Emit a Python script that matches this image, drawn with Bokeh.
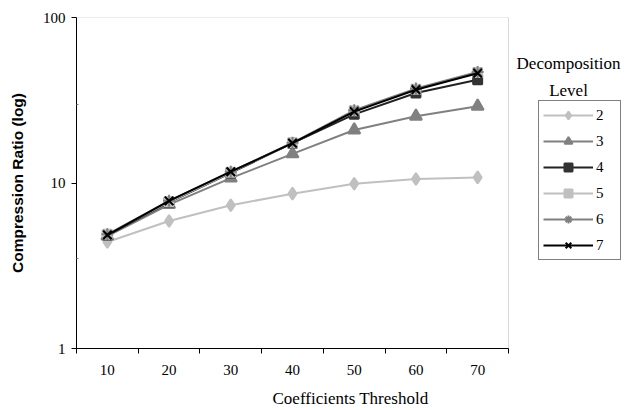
from bokeh.plotting import figure
from bokeh.models import (Range1d, FixedTicker, Legend, LegendItem, Label,
                          PrintfTickFormatter, BoxAnnotation)
from bokeh.embed import file_html
from bokeh.resources import INLINE

thresholds = [10, 20, 30, 40, 50, 60, 70]
levels = ["2", "3", "4", "5", "6", "7"]
ratio_2 = [4.40, 5.89, 7.34, 8.62, 9.90, 10.57, 10.81]
ratio_3 = [4.78, 7.41, 10.7, 15.0, 20.9, 25.3, 29.1]
ratio_4 = [4.85, 7.65, 11.5, 17.4, 26.0, 35.0, 42.0]
ratio_5 = [4.90, 7.70, 11.6, 17.5, 27.3, 36.9, 46.5]
ratio_6 = [4.90, 7.80, 11.7, 17.5, 27.5, 37.2, 46.8]
ratio_7 = [4.85, 7.80, 11.7, 17.4, 27.0, 36.6, 46.0]
y_ticks = [1, 10, 100]

series = [ratio_2, ratio_3, ratio_4, ratio_5, ratio_6, ratio_7]
styles = [
    dict(line="#c0c0c0", marker="diamond", fill="#c0c0c0", size=12, lw=2),
    dict(line="#808080", marker="triangle", fill="#808080", size=12, lw=2),
    dict(line="#222222", marker="square", fill="#333333", size=9, lw=2),
    dict(line="#c0c0c0", marker="square", fill="#c0c0c0", size=9, lw=2),
    dict(line="#808080", marker="asterisk", fill="#808080", size=12, lw=2),
    dict(line="#000000", marker="x", fill="#000000", size=12, lw=2),
]

W, H = 624, 410
LEFT, TOP, FRAME_H = 76, 17, 333
X0, X1 = 5, 75
px_per_unit = 432 / (X1 - X0)
x_end = X0 + (W - LEFT) / px_per_unit

p = figure(width=W, height=H, output_backend="svg", toolbar_location=None,
           y_axis_type="log", x_range=Range1d(X0, x_end), y_range=Range1d(1, 100),
           min_border_left=LEFT, min_border_right=0, min_border_top=TOP,
           min_border_bottom=H - TOP - FRAME_H)
p.grid.visible = False
p.outline_line_color = None
p.background_fill_color = "white"
p.border_fill_color = "white"

# plot area border (top / right in gray)
p.add_layout(BoxAnnotation(left=X0, right=X1, bottom=1, top=100, fill_alpha=0,
                           line_color="#808080", line_width=1, level="underlay"))

serif = "Liberation Serif"

# x axis
xa = p.xaxis[0]
xa.bounds = (X0, X1)
xa.ticker = FixedTicker(ticks=thresholds, minor_ticks=[5, 15, 25, 35, 45, 55, 65, 75])
xa.major_tick_line_color = None
xa.major_tick_out = 0
xa.major_tick_in = 0
xa.minor_tick_out = 5
xa.minor_tick_in = 0
xa.minor_tick_line_color = "black"
xa.axis_line_color = "black"
xa.major_label_text_font = serif
xa.major_label_text_font_size = "15px"
xa.major_label_text_color = "black"
xa.major_label_standoff = 11
xa.axis_label = "Coefficients Threshold"
xa.axis_label_text_font = serif
xa.axis_label_text_font_size = "17px"
xa.axis_label_text_font_style = "normal"
xa.axis_label_text_color = "black"
xa.axis_label_standoff = 11

# y axis
ya = p.yaxis[0]
ya.ticker = FixedTicker(ticks=y_ticks, minor_ticks=[3.5, 30])
ya.formatter = PrintfTickFormatter(format="%d")
ya.major_tick_out = 5
ya.major_tick_in = 0
ya.major_tick_line_color = "black"
ya.minor_tick_out = 0
ya.minor_tick_in = 2
ya.minor_tick_line_color = "#808080"
ya.axis_line_color = "black"
ya.major_label_text_font = serif
ya.major_label_text_font_size = "15px"
ya.major_label_text_color = "black"
ya.major_label_standoff = 6
ya.axis_label = "Compression Ratio (log)"
ya.axis_label_text_font = "Liberation Sans"
ya.axis_label_text_font_size = "15.5px"
ya.axis_label_text_font_style = "bold"
ya.axis_label_text_color = "black"
ya.axis_label_standoff = 14

items = []
for vals, st, lab in zip(series, styles, levels):
    l = p.line(thresholds, vals, line_color=st["line"], line_width=st["lw"])
    s = p.scatter(thresholds, vals, marker=st["marker"], size=st["size"],
                  fill_color=st["fill"], line_color=st["fill"], line_width=2)
    items.append(LegendItem(label=lab, renderers=[l, s]))

legend = Legend(items=items, location=(462, 88), orientation="vertical",
                label_text_font=serif, label_text_font_size="15px",
                label_text_color="black", glyph_width=50, glyph_height=20,
                label_height=20, spacing=6, padding=4, margin=0,
                label_standoff=3, border_line_color="black",
                border_line_width=1, background_fill_alpha=1)
p.add_layout(legend)

title_x = X0 + (568 - 76) / px_per_unit
p.add_layout(Label(x=title_x, y=52.9, text="Decomposition", text_font=serif,
                   text_font_size="17px", text_align="center",
                   text_baseline="middle", text_color="black"))
p.add_layout(Label(x=title_x, y=36.4, text="Level", text_font=serif,
                   text_font_size="17px", text_align="center",
                   text_baseline="middle", text_color="black"))

open("out.html", "w").write(file_html(p, INLINE))
